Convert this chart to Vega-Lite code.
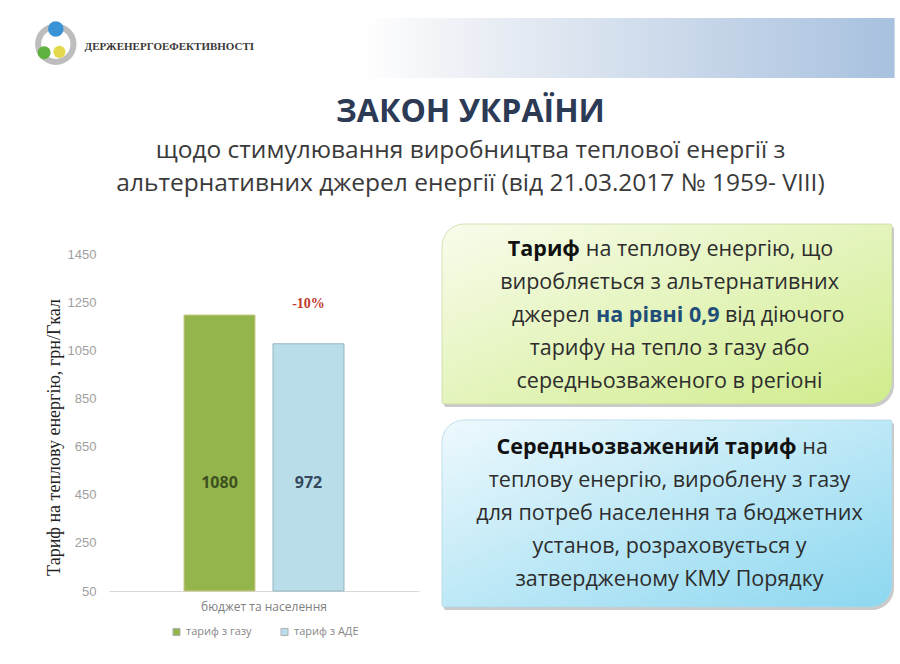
{
  "$schema": "https://vega.github.io/schema/vega-lite/v6.json",
  "background": "#ffffff",
  "padding": 0,
  "spacing": 10,
  "config": {"view": {"stroke": null}, "font": "Open Sans"},
  "vconcat": [
    {
      "width": 900,
      "height": 85,
      "data": {"values": [{"org": "ДЕРЖЕНЕРГОЕФЕКТИВНОСТІ"}]},
      "layer": [
        {
          "mark": {"type": "rect", "fill": {"gradient": "linear", "x1": 0, "y1": 0, "x2": 1, "y2": 0, "stops": [{"offset": 0, "color": "#ffffff"}, {"offset": 0.15, "color": "#f1f3f7"}, {"offset": 1, "color": "#a8c1df"}]}},
          "encoding": {
            "x": {"datum": 40.3, "type": "quantitative", "scale": {"domain": [0, 100], "nice": false, "zero": false}, "axis": null},
            "x2": {"datum": 99.4},
            "y": {"datum": 21.2, "type": "quantitative", "scale": {"domain": [0, 100], "nice": false, "zero": false, "reverse": true}, "axis": null},
            "y2": {"datum": 91.8}
          }
        },
        {
          "mark": {"type": "point", "shape": "circle", "filled": false, "stroke": "#bdbdbd", "strokeWidth": 6, "size": 1250, "opacity": 1},
          "encoding": {"x": {"datum": 6.2, "type": "quantitative"}, "y": {"datum": 52, "type": "quantitative"}}
        },
        {
          "mark": {"type": "point", "shape": "circle", "filled": true, "color": "#5fb23f", "size": 170, "opacity": 1},
          "encoding": {"x": {"datum": 4.9, "type": "quantitative"}, "y": {"datum": 62, "type": "quantitative"}}
        },
        {
          "mark": {"type": "point", "shape": "circle", "filled": true, "color": "#3a93d6", "size": 240, "opacity": 1},
          "encoding": {"x": {"datum": 6.2, "type": "quantitative"}, "y": {"datum": 34, "type": "quantitative"}}
        },
        {
          "mark": {"type": "point", "shape": "circle", "filled": true, "color": "#e2da4c", "size": 150, "opacity": 1},
          "encoding": {"x": {"datum": 6.6, "type": "quantitative"}, "y": {"datum": 61, "type": "quantitative"}}
        },
        {
          "mark": {"type": "text", "font": "Liberation Serif", "fontWeight": "bold", "fontSize": 11, "color": "#3a3a3a", "align": "left", "baseline": "middle"},
          "encoding": {"x": {"datum": 9.4, "type": "quantitative"}, "y": {"datum": 55.3, "type": "quantitative"}, "text": {"field": "org"}}
        }
      ]
    },
    {
      "title": {
        "text": "ЗАКОН УКРАЇНИ",
        "subtitle": ["щодо стимулювання виробництва теплової енергії з", "альтернативних джерел енергії (від 21.03.2017 № 1959- VIII)"],
        "anchor": "middle",
        "font": "Open Sans",
        "fontSize": 32,
        "fontWeight": "bold",
        "color": "#2c3a56",
        "subtitleFont": "Open Sans",
        "subtitleFontSize": 24.5,
        "subtitleColor": "#3a3a3a",
        "subtitleLineHeight": 33,
        "subtitlePadding": 10,
        "offset": 27,
        "dx": 22
      },
      "spacing": 22,
      "hconcat": [
        {
          "width": 23,
          "height": 10,
          "data": {"values": [{"blank": ""}]},
          "mark": {"type": "text"},
          "encoding": {"text": {"field": "blank"}}
        },
        {
          "width": 310,
          "height": 367,
          "data": {"values": [
            {"group": "бюджет та населення", "series": "тариф з газу", "tariff": 1200, "label": 1080},
            {"group": "бюджет та населення", "series": "тариф з АДЕ", "tariff": 1080, "label": 972, "note": "-10%"}
          ]},
          "encoding": {
            "x": {"field": "group", "type": "nominal", "scale": {"paddingInner": 0, "paddingOuter": 0.371}, "axis": {"title": null, "labelAngle": 0, "ticks": false, "domainColor": "#d9d9d9", "labelColor": "#808080", "labelFontSize": 12, "labelFont": "Open Sans", "labelPadding": 10}},
            "xOffset": {"field": "series", "type": "nominal", "sort": ["тариф з газу", "тариф з АДЕ"], "scale": {"paddingInner": 0.2022, "paddingOuter": 0.101}}
          },
          "layer": [
            {
              "mark": {"type": "bar", "strokeWidth": 1},
              "encoding": {
                "y": {"field": "tariff", "type": "quantitative", "scale": {"domain": [50, 1579], "nice": false, "zero": false}, "axis": {"values": [50, 250, 450, 650, 850, 1050, 1250, 1450], "format": "d", "domain": false, "ticks": false, "grid": false, "labelFont": "Liberation Sans", "labelFontSize": 13, "labelColor": "#a0a0a0", "labelPadding": 13, "title": "Тариф на теплову енергію, грн/Гкал", "titleFont": "Liberation Serif", "titleFontSize": 18, "titleFontWeight": "normal", "titleColor": "#222222", "titlePadding": 4, "titleY": 213}},
                "y2": {"datum": 50},
                "color": {"field": "series", "type": "nominal", "sort": ["тариф з газу", "тариф з АДЕ"], "scale": {"domain": ["тариф з газу", "тариф з АДЕ"], "range": ["#93b54c", "#b9dde9"]}, "legend": {"title": null, "orient": "none", "legendX": 171, "legendY": 626, "padding": 0, "direction": "horizontal", "symbolType": "square", "symbolSize": 50, "labelFont": "Open Sans", "labelFontSize": 11, "labelColor": "#888888", "columnPadding": 26, "symbolStrokeColor": "#b0b0b0", "symbolStrokeWidth": 1}},
                "stroke": {"condition": {"test": "datum.series === 'тариф з газу'", "value": "#cdc88a"}, "value": "#98b3c3"}
              }
            },
            {
              "mark": {"type": "text", "font": "Open Sans", "fontWeight": "bold", "fontSize": 16, "baseline": "middle"},
              "encoding": {
                "y": {"datum": 500},
                "text": {"field": "label"},
                "color": {"condition": {"test": "datum.series === 'тариф з газу'", "value": "#3d5020"}, "value": "#34495e"}
              }
            },
            {
              "transform": [{"filter": "isValid(datum.note)"}],
              "mark": {"type": "text", "font": "Liberation Serif", "fontWeight": "bold", "fontSize": 14, "color": "#c0392b", "baseline": "middle"},
              "encoding": {"y": {"datum": 1246}, "text": {"field": "note"}}
            }
          ]
        },
        {
          "width": 455,
          "height": 384,
          "layer": [
            {
              "data": {"values": [{"box": 1}]},
              "mark": {"type": "rect", "fill": "#8a8a8a", "opacity": 0.45, "xOffset": 2, "x2Offset": 2, "yOffset": 3, "y2Offset": 3, "cornerRadiusTopLeft": 22, "cornerRadiusBottomRight": 22, "cornerRadiusTopRight": 2, "cornerRadiusBottomLeft": 2},
              "encoding": {
                "x": {"datum": 0, "type": "quantitative", "scale": {"domain": [0, 100], "nice": false, "zero": false}, "axis": null},
                "x2": {"datum": 98.9},
                "y": {"datum": 0.212, "type": "quantitative", "scale": {"domain": [0.212, 11.848], "nice": false, "zero": false, "reverse": true}, "axis": null},
                "y2": {"datum": 5.667}
              }
            },
            {
              "data": {"values": [{"box": 1}]},
              "mark": {"type": "rect", "fill": {"gradient": "linear", "x1": 0, "y1": 0, "x2": 1, "y2": 1, "stops": [{"offset": 0, "color": "#f8fcec"}, {"offset": 1, "color": "#d0ec8c"}]}, "stroke": "#c9d9a6", "strokeWidth": 0.8, "cornerRadiusTopLeft": 22, "cornerRadiusBottomRight": 22, "cornerRadiusTopRight": 2, "cornerRadiusBottomLeft": 2},
              "encoding": {
                "x": {"datum": 0, "type": "quantitative"},
                "x2": {"datum": 98.9},
                "y": {"datum": 0.212, "type": "quantitative"},
                "y2": {"datum": 5.667}
              }
            },
            {
              "data": {"values": [{"box": 2}]},
              "mark": {"type": "rect", "fill": "#8a8a8a", "opacity": 0.45, "xOffset": 2, "x2Offset": 2, "yOffset": 3, "y2Offset": 3, "cornerRadiusTopLeft": 22, "cornerRadiusBottomRight": 22, "cornerRadiusTopRight": 2, "cornerRadiusBottomLeft": 2},
              "encoding": {
                "x": {"datum": 0, "type": "quantitative"},
                "x2": {"datum": 98.9},
                "y": {"datum": 6.152, "type": "quantitative"},
                "y2": {"datum": 11.818}
              }
            },
            {
              "data": {"values": [{"box": 2}]},
              "mark": {"type": "rect", "fill": {"gradient": "linear", "x1": 0, "y1": 0, "x2": 1, "y2": 1, "stops": [{"offset": 0, "color": "#eef9fd"}, {"offset": 1, "color": "#8cd7f0"}]}, "stroke": "#b4d8e6", "strokeWidth": 0.8, "cornerRadiusTopLeft": 22, "cornerRadiusBottomRight": 22, "cornerRadiusTopRight": 2, "cornerRadiusBottomLeft": 2},
              "encoding": {
                "x": {"datum": 0, "type": "quantitative"},
                "x2": {"datum": 98.9},
                "y": {"datum": 6.152, "type": "quantitative"},
                "y2": {"datum": 11.818}
              }
            },
            {
              "data": {"values": [
                {"line": 2, "text": "виробляється з альтернативних"},
                {"line": 4, "text": "тарифу на тепло з газу або"},
                {"line": 5, "text": "середньозваженого   в регіоні"},
                {"line": 8, "text": "теплову енергію, вироблену з газу"},
                {"line": 9, "text": "для потреб населення та бюджетних"},
                {"line": 10, "text": "установ, розраховується у"},
                {"line": 11, "text": "затвердженому  КМУ Порядку"}
              ]},
              "mark": {"type": "text", "font": "Open Sans", "fontSize": 21.5, "color": "#2d2d2d", "align": "center", "baseline": "middle"},
              "encoding": {"x": {"datum": 50, "type": "quantitative"}, "y": {"field": "line", "type": "quantitative"}, "text": {"field": "text"}}
            },
            {
              "data": {"values": [{"line": 1, "text": "Тариф"}]},
              "mark": {"type": "text", "font": "Open Sans", "fontSize": 21.5, "fontWeight": "bold", "color": "#111111", "align": "right", "baseline": "middle"},
              "encoding": {"x": {"datum": 30.3, "type": "quantitative"}, "y": {"field": "line", "type": "quantitative"}, "text": {"field": "text"}}
            },
            {
              "data": {"values": [{"line": 1, "text": "на теплову енергію, що"}]},
              "mark": {"type": "text", "font": "Open Sans", "fontSize": 21.5, "color": "#2d2d2d", "align": "left", "baseline": "middle"},
              "encoding": {"x": {"datum": 31.6, "type": "quantitative"}, "y": {"field": "line", "type": "quantitative"}, "text": {"field": "text"}}
            },
            {
              "data": {"values": [{"line": 3, "text": "джерел"}]},
              "mark": {"type": "text", "font": "Open Sans", "fontSize": 21.5, "color": "#2d2d2d", "align": "right", "baseline": "middle"},
              "encoding": {"x": {"datum": 32.5, "type": "quantitative"}, "y": {"field": "line", "type": "quantitative"}, "text": {"field": "text"}}
            },
            {
              "data": {"values": [{"line": 3, "text": "на рівні 0,9"}]},
              "mark": {"type": "text", "font": "Open Sans", "fontSize": 21.5, "fontWeight": "bold", "color": "#1f4e79", "align": "left", "baseline": "middle"},
              "encoding": {"x": {"datum": 33.85, "type": "quantitative"}, "y": {"field": "line", "type": "quantitative"}, "text": {"field": "text"}}
            },
            {
              "data": {"values": [{"line": 3, "text": "від діючого"}]},
              "mark": {"type": "text", "font": "Open Sans", "fontSize": 21.5, "color": "#2d2d2d", "align": "left", "baseline": "middle"},
              "encoding": {"x": {"datum": 62.2, "type": "quantitative"}, "y": {"field": "line", "type": "quantitative"}, "text": {"field": "text"}}
            },
            {
              "data": {"values": [{"line": 7, "text": "Середньозважений тариф"}]},
              "mark": {"type": "text", "font": "Open Sans", "fontSize": 21.5, "fontWeight": "bold", "color": "#111111", "align": "right", "baseline": "middle"},
              "encoding": {"x": {"datum": 77.9, "type": "quantitative"}, "y": {"field": "line", "type": "quantitative"}, "text": {"field": "text"}}
            },
            {
              "data": {"values": [{"line": 7, "text": "на"}]},
              "mark": {"type": "text", "font": "Open Sans", "fontSize": 21.5, "color": "#2d2d2d", "align": "left", "baseline": "middle"},
              "encoding": {"x": {"datum": 79.2, "type": "quantitative"}, "y": {"field": "line", "type": "quantitative"}, "text": {"field": "text"}}
            }
          ]
        }
      ]
    }
  ]
}
